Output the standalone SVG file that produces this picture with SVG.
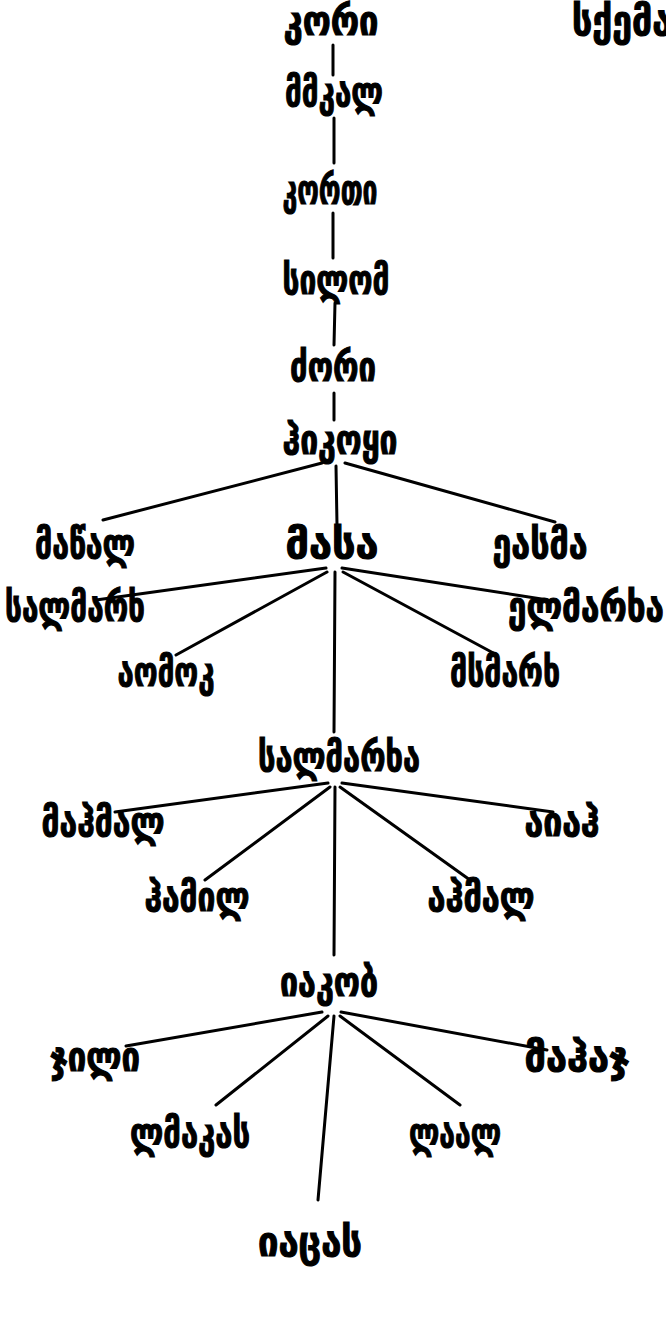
<svg xmlns="http://www.w3.org/2000/svg" width="666" height="1340" viewBox="0 0 666 1340">
<style>
.t{font-family:"DejaVu Sans","Noto Sans",sans-serif;font-weight:bold;font-size:31px;fill:#000;stroke:#000;stroke-width:0.9;text-anchor:middle}
.c line{stroke:#000;stroke-width:3;stroke-linecap:round}
</style>
<rect width="666" height="1340" fill="#fff"/>
<g class="c" id="connectors">
<line x1="333" y1="45" x2="333" y2="75"/>
<line x1="334" y1="118" x2="334" y2="163"/>
<line x1="333" y1="213" x2="333" y2="258"/>
<line x1="335" y1="303" x2="334" y2="345"/>
<line x1="334" y1="393" x2="334" y2="420"/>
<line x1="322" y1="463" x2="103" y2="520"/>
<line x1="345" y1="463" x2="555" y2="522"/>
<line x1="336" y1="466" x2="337" y2="525"/>
<line x1="326" y1="568" x2="96" y2="600"/>
<line x1="342" y1="568" x2="548" y2="600"/>
<line x1="327" y1="572" x2="176" y2="655"/>
<line x1="343" y1="572" x2="497" y2="655"/>
<line x1="335" y1="572" x2="334" y2="732"/>
<line x1="328" y1="783" x2="115" y2="812"/>
<line x1="342" y1="783" x2="553" y2="812"/>
<line x1="330" y1="787" x2="205" y2="880"/>
<line x1="340" y1="787" x2="470" y2="880"/>
<line x1="335" y1="787" x2="334" y2="955"/>
<line x1="322" y1="1012" x2="126" y2="1046"/>
<line x1="341" y1="1012" x2="547" y2="1050"/>
<line x1="328" y1="1016" x2="216" y2="1105"/>
<line x1="340" y1="1016" x2="460" y2="1105"/>
<line x1="334" y1="1016" x2="318" y2="1200"/>
</g>
<g id="n1"><text class="t" transform="translate(331,35) scale(1,1.3)" textLength="95" lengthAdjust="spacingAndGlyphs">კორი</text></g>
<g id="title"><text class="t" transform="translate(572,35) scale(1,1.3)" style="text-anchor:start" textLength="100" lengthAdjust="spacingAndGlyphs">სქემა</text></g>
<g id="n2"><text class="t" transform="translate(334,106) scale(1,1.3)" textLength="98" lengthAdjust="spacingAndGlyphs">მმკალ</text></g>
<g id="n3"><text class="t" transform="translate(330,204) scale(1,1.3)" textLength="95" lengthAdjust="spacingAndGlyphs">კორთი</text></g>
<g id="n4"><text class="t" transform="translate(336,294) scale(1,1.3)" textLength="107" lengthAdjust="spacingAndGlyphs">სილომ</text></g>
<g id="n5"><text class="t" transform="translate(333,381) scale(1,1.3)" textLength="86" lengthAdjust="spacingAndGlyphs">ძორი</text></g>
<g id="n6"><text class="t" transform="translate(340,454) scale(1,1.3)" textLength="115" lengthAdjust="spacingAndGlyphs">ჰიკოყი</text></g>
<g id="n7"><text class="t" transform="translate(85,558) scale(1,1.3)" textLength="100" lengthAdjust="spacingAndGlyphs">მაწალ</text></g>
<g id="n8"><text class="t" transform="translate(332,558) scale(1,1.3)" textLength="93" lengthAdjust="spacingAndGlyphs">მასა</text></g>
<g id="n9"><text class="t" transform="translate(540,558) scale(1,1.3)" textLength="95" lengthAdjust="spacingAndGlyphs">ეასმა</text></g>
<g id="n10"><text class="t" transform="translate(75,621) scale(1,1.3)" textLength="140" lengthAdjust="spacingAndGlyphs">სალმარხ</text></g>
<g id="n11"><text class="t" transform="translate(586,621) scale(1,1.3)" textLength="156" lengthAdjust="spacingAndGlyphs">ელმარხა</text></g>
<g id="n12"><text class="t" transform="translate(166,686) scale(1,1.3)" textLength="97" lengthAdjust="spacingAndGlyphs">აომოკ</text></g>
<g id="n13"><text class="t" transform="translate(505,686) scale(1,1.3)" textLength="110" lengthAdjust="spacingAndGlyphs">მსმარხ</text></g>
<g id="n14"><text class="t" transform="translate(339,771) scale(1,1.3)" textLength="162" lengthAdjust="spacingAndGlyphs">სალმარხა</text></g>
<g id="n15"><text class="t" transform="translate(103,836) scale(1,1.3)" textLength="123" lengthAdjust="spacingAndGlyphs">მაჰმალ</text></g>
<g id="n16"><text class="t" transform="translate(562,836) scale(1,1.3)" textLength="75" lengthAdjust="spacingAndGlyphs">აიაჰ</text></g>
<g id="n17"><text class="t" transform="translate(197,911) scale(1,1.3)" textLength="105" lengthAdjust="spacingAndGlyphs">ჰამილ</text></g>
<g id="n18"><text class="t" transform="translate(481,911) scale(1,1.3)" textLength="107" lengthAdjust="spacingAndGlyphs">აჰმალ</text></g>
<g id="n19"><text class="t" transform="translate(329,996) scale(1,1.3)" textLength="98" lengthAdjust="spacingAndGlyphs">იაკობ</text></g>
<g id="n20"><text class="t" transform="translate(95,1071) scale(1,1.3)" textLength="90" lengthAdjust="spacingAndGlyphs">ჯილი</text></g>
<g id="n21"><text class="t" transform="translate(577,1071) scale(1,1.3)" textLength="105" lengthAdjust="spacingAndGlyphs">მაჰაჯ</text></g>
<g id="n22"><text class="t" transform="translate(190,1147) scale(1,1.3)" textLength="120" lengthAdjust="spacingAndGlyphs">ლმაკას</text></g>
<g id="n23"><text class="t" transform="translate(455,1147) scale(1,1.3)" textLength="92" lengthAdjust="spacingAndGlyphs">ლაალ</text></g>
<g id="n24"><text class="t" transform="translate(310,1256) scale(1,1.3)" textLength="104" lengthAdjust="spacingAndGlyphs">იაცას</text></g>
</svg>
